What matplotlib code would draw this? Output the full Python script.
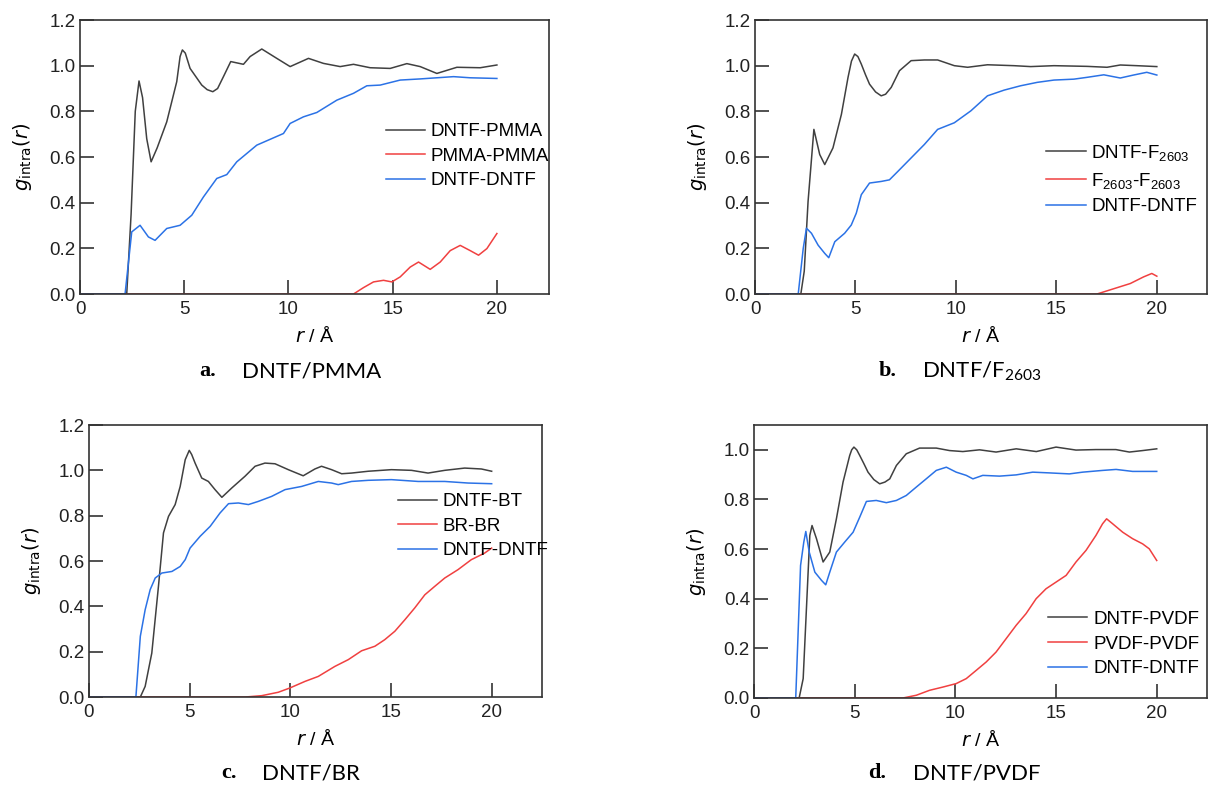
import matplotlib
matplotlib.use("Agg")
import matplotlib.pyplot as plt
from matplotlib.ticker import FormatStrFormatter

plt.rcParams['font.family'] = ['Liberation Sans', 'DejaVu Sans']

BLACK = '#404040'
RED = '#f04040'
BLUE = '#2b72e6'

# ---- panel a: DNTF/PMMA ----
a_black_r = [0, 2.24, 2.45, 2.65, 2.83, 3.0, 3.2, 3.41, 3.7, 4.16, 4.64, 4.8, 4.91, 5.05, 5.28, 5.84, 6.1, 6.37,
             6.6, 6.88, 7.23, 7.84, 8.16, 8.72, 9.44, 10.08, 10.96, 11.68, 12.48, 13.12, 13.92, 14.88, 15.68,
             16.32, 17.12, 18.08, 19.2, 20.0]
a_black_g = [0, 0, 0.35, 0.8, 0.933, 0.86, 0.68, 0.579, 0.64, 0.754, 0.93, 1.04, 1.069, 1.055, 0.988, 0.915,
             0.895, 0.886, 0.9, 0.952, 1.018, 1.006, 1.04, 1.073, 1.032, 0.996, 1.032, 1.01, 0.996, 1.006, 0.991,
             0.988, 1.009, 0.996, 0.966, 0.993, 0.991, 1.003]
a_red_r = [0, 13.12, 13.6, 14.08, 14.56, 14.96, 15.36, 15.84, 16.24, 16.8, 17.28, 17.76, 18.24, 18.72, 19.12,
           19.52, 19.84, 20.0]
a_red_g = [0, 0, 0.028, 0.053, 0.06, 0.053, 0.075, 0.118, 0.14, 0.108, 0.14, 0.19, 0.213, 0.19, 0.17, 0.199,
           0.243, 0.265]
a_blue_r = [0, 2.16, 2.48, 2.88, 3.28, 3.6, 4.16, 4.8, 5.36, 5.92, 6.56, 7.04, 7.52, 8.48, 9.76, 10.08, 10.72,
            11.36, 12.32, 13.12, 13.76, 14.4, 15.36, 16.32, 17.92, 18.72, 20.0]
a_blue_g = [0, 0, 0.272, 0.301, 0.25, 0.235, 0.287, 0.301, 0.345, 0.425, 0.506, 0.523, 0.579, 0.652, 0.703,
            0.747, 0.776, 0.795, 0.849, 0.879, 0.912, 0.915, 0.937, 0.942, 0.952, 0.947, 0.944]

# ---- panel b: DNTF/F2603 ----
b_black_r = [0, 2.28, 2.45, 2.64, 2.93, 3.22, 3.47, 3.88, 4.3, 4.63, 4.8, 4.96, 5.12, 5.29, 5.5, 5.7, 6.0, 6.28,
             6.5, 6.78, 7.19, 7.77, 8.43, 9.09, 9.92, 10.58, 11.57, 12.89, 13.72, 14.88, 16.53, 17.52, 18.18,
             19.01, 20.0]
b_black_g = [0, 0, 0.1, 0.405, 0.721, 0.611, 0.567, 0.64, 0.787, 0.949, 1.02, 1.051, 1.04, 1.007, 0.96, 0.919,
             0.885, 0.868, 0.875, 0.905, 0.978, 1.022, 1.025, 1.025, 1.0, 0.993, 1.004, 1.0, 0.996, 1.0, 0.997,
             0.993, 1.003, 1.0, 0.996]
b_red_r = [0, 17.02, 17.85, 18.68, 19.34, 19.75, 20.0]
b_red_g = [0, 0, 0.023, 0.046, 0.075, 0.09, 0.078]
b_blue_r = [0, 2.15, 2.4, 2.56, 2.81, 3.14, 3.47, 3.67, 3.97, 4.46, 4.79, 5.04, 5.29, 5.7, 6.28, 6.69, 7.11,
            7.77, 8.43, 9.09, 9.92, 10.74, 11.57, 12.4, 13.22, 14.05, 14.88, 15.87, 16.53, 17.36, 18.18, 18.84,
            19.5, 20.0]
b_blue_g = [0, 0, 0.2, 0.288, 0.266, 0.214, 0.178, 0.159, 0.229, 0.266, 0.302, 0.354, 0.435, 0.486, 0.493, 0.5,
            0.537, 0.596, 0.655, 0.721, 0.75, 0.802, 0.868, 0.893, 0.912, 0.927, 0.937, 0.941, 0.949, 0.96,
            0.946, 0.959, 0.971, 0.959]

# ---- panel c: DNTF/BR ----
c_black_r = [0, 2.55, 2.79, 3.12, 3.45, 3.7, 3.95, 4.28, 4.53, 4.78, 4.98, 5.1, 5.27, 5.6, 5.93, 6.26, 6.6, 7.09,
             7.75, 8.25, 8.74, 9.24, 9.9, 10.64, 11.22, 11.55, 12.05, 12.55, 13.04, 13.87, 15.02, 16.02, 16.84,
             17.67, 18.66, 19.49, 20.0]
c_black_g = [0, 0, 0.047, 0.194, 0.488, 0.724, 0.797, 0.849, 0.929, 1.047, 1.088, 1.07, 1.032, 0.966, 0.951,
             0.915, 0.881, 0.922, 0.974, 1.018, 1.032, 1.029, 1.003, 0.976, 1.006, 1.018, 1.003, 0.985, 0.988,
             0.996, 1.003, 1.0, 0.988, 1.0, 1.01, 1.006, 0.996]
c_red_r = [0, 7.75, 8.58, 9.4, 9.98, 10.73, 11.39, 12.21, 12.88, 13.54, 14.2, 14.69, 15.19, 15.69, 16.18, 16.68,
           17.17, 17.67, 18.33, 18.99, 19.65, 20.0]
c_red_g = [0, 0, 0.006, 0.021, 0.04, 0.069, 0.091, 0.135, 0.165, 0.204, 0.224, 0.253, 0.29, 0.341, 0.393, 0.451,
           0.488, 0.525, 0.562, 0.606, 0.635, 0.657]
c_blue_r = [0, 2.33, 2.55, 2.79, 3.04, 3.29, 3.62, 4.12, 4.53, 4.78, 5.02, 5.52, 6.02, 6.51, 6.93, 7.42, 7.92,
            8.41, 9.07, 9.74, 10.56, 11.39, 12.05, 12.38, 13.04, 13.87, 15.02, 16.35, 17.67, 18.83, 20.0]
c_blue_g = [0, 0, 0.268, 0.385, 0.474, 0.525, 0.547, 0.554, 0.576, 0.606, 0.657, 0.709, 0.753, 0.812, 0.853,
            0.856, 0.849, 0.863, 0.885, 0.915, 0.929, 0.951, 0.944, 0.937, 0.951, 0.956, 0.959, 0.951, 0.951,
            0.944, 0.941]

# ---- panel d: DNTF/PVDF ----
d_black_r = [0, 2.24, 2.44, 2.64, 2.77, 2.88, 3.1, 3.43, 3.76, 4.09, 4.42, 4.75, 4.85, 4.96, 5.1, 5.25, 5.45,
             5.66, 5.95, 6.24, 6.5, 6.74, 7.07, 7.56, 8.22, 9.05, 9.71, 10.37, 11.2, 12.02, 13.02, 14.02, 15.0,
             15.99, 16.98, 17.97, 18.64, 19.3, 20.0]
d_black_g = [0, 0, 0.078, 0.427, 0.655, 0.695, 0.642, 0.548, 0.588, 0.722, 0.87, 0.977, 1.0, 1.011, 1.0, 0.977,
             0.945, 0.91, 0.88, 0.863, 0.87, 0.883, 0.937, 0.984, 1.007, 1.007, 0.997, 0.993, 1.0, 0.991, 1.004,
             0.993, 1.011, 0.999, 1.001, 1.001, 0.991, 0.997, 1.004]
d_red_r = [0, 7.4, 8.06, 8.72, 9.38, 10.04, 10.54, 11.03, 11.53, 12.02, 12.52, 13.02, 13.51, 14.01, 14.5, 15.0,
           15.5, 15.99, 16.49, 16.98, 17.31, 17.51, 17.81, 18.31, 18.8, 19.3, 19.63, 20.0]
d_red_g = [0, 0, 0.011, 0.031, 0.044, 0.058, 0.078, 0.111, 0.145, 0.185, 0.239, 0.293, 0.34, 0.4, 0.44, 0.467,
           0.494, 0.548, 0.595, 0.655, 0.702, 0.722, 0.702, 0.668, 0.642, 0.621, 0.601, 0.554]
d_blue_r = [0, 2.07, 2.31, 2.47, 2.57, 2.74, 3.02, 3.35, 3.56, 3.76, 4.09, 4.5, 4.92, 5.25, 5.58, 6.07, 6.57,
            7.07, 7.56, 8.06, 8.55, 9.05, 9.55, 10.04, 10.54, 10.87, 11.36, 12.19, 13.02, 13.84, 14.67, 15.66,
            16.32, 17.31, 17.98, 18.8, 20.0]
d_blue_g = [0, 0, 0.534, 0.628, 0.671, 0.588, 0.507, 0.474, 0.456, 0.507, 0.588, 0.628, 0.668, 0.729, 0.792,
            0.796, 0.787, 0.796, 0.816, 0.85, 0.883, 0.917, 0.93, 0.91, 0.897, 0.883, 0.897, 0.894, 0.899, 0.91,
            0.907, 0.903, 0.91, 0.917, 0.921, 0.913, 0.913]

x_ticks = [0, 5, 10, 15, 20]
sub = '$\\mathregular{_{2603}}$'

fig = plt.figure(figsize=(12.09, 7.91), dpi=100)

panels = [
    # rect, ymax, curves, legend labels, legend anchor, caption letter, caption text, caption x's, caption y
    ([0.0662, 0.6283, 0.3879, 0.3464], 1.2,
     [(a_black_r, a_black_g), (a_red_r, a_red_g), (a_blue_r, a_blue_g)],
     ['DNTF-PMMA', 'PMMA-PMMA', 'DNTF-DNTF'], (0.652, 0.624),
     'a.', 'DNTF/PMMA', (199, 242), 371),
    ([0.6245, 0.6283, 0.3739, 0.3464], 1.2,
     [(b_black_r, b_black_g), (b_red_r, b_red_g), (b_blue_r, b_blue_g)],
     ['DNTF-F' + sub, 'F' + sub + '-F' + sub, 'DNTF-DNTF'], (0.644, 0.551),
     'b.', 'DNTF/F' + sub, (879, 922), 371),
    ([0.0736, 0.1188, 0.3747, 0.3439], 1.2,
     [(c_black_r, c_black_g), (c_red_r, c_red_g), (c_blue_r, c_blue_g)],
     ['DNTF-BT', 'BR-BR', 'DNTF-DNTF'], (0.682, 0.75),
     'c.', 'DNTF/BR', (221, 262), 773),
    ([0.6237, 0.1176, 0.3747, 0.3451], 1.1,
     [(d_black_r, d_black_g), (d_red_r, d_red_g), (d_blue_r, d_blue_g)],
     ['DNTF-PVDF', 'PVDF-PVDF', 'DNTF-DNTF'], (0.649, 0.319),
     'd.', 'DNTF/PVDF', (868, 913), 773),
]

W, H = 1209.0, 791.0
for rect, ymax, curves, labels, anchor, letter, cap, cx, cy in panels:
    ax = fig.add_axes(rect)
    for (r, g), col, lab in zip(curves, [BLACK, RED, BLUE], labels):
        ax.plot(r, g, color=col, lw=1.1, label=lab)
    ax.set_xlim(0, 22.5)
    ax.set_ylim(0, ymax)
    ax.set_xticks(x_ticks)
    ax.set_yticks([0, 0.2, 0.4, 0.6, 0.8, 1.0] + ([1.2] if ymax > 1.15 else []))
    ax.yaxis.set_major_formatter(FormatStrFormatter('%.1f'))
    ax.tick_params(direction='in', length=10, width=1.1, labelsize=13.5, colors='#222222', pad=3)
    ax.tick_params(axis='x', pad=5)
    for s in ax.spines.values():
        s.set_linewidth(1.2)
        s.set_color('#333333')
    ax.set_xlabel('$r$ / Å', fontsize=14, labelpad=6)
    ax.set_ylabel('$g_{\\mathrm{intra}}(r)$', fontsize=14, labelpad=11)
    ax.legend(loc='upper left', bbox_to_anchor=anchor, frameon=False, fontsize=13.5,
              handlelength=2.1, handletextpad=0.3, labelspacing=0.4, borderpad=0, borderaxespad=0)
    fig.text(cx[0] / W, 1 - cy / H, letter, fontsize=16, fontweight='bold', family='Liberation Serif',
             va='center')
    fig.text(cx[1] / W, 1 - cy / H, cap, fontsize=16, family='Lato', va='center')

fig.savefig('out.png', dpi=100)
